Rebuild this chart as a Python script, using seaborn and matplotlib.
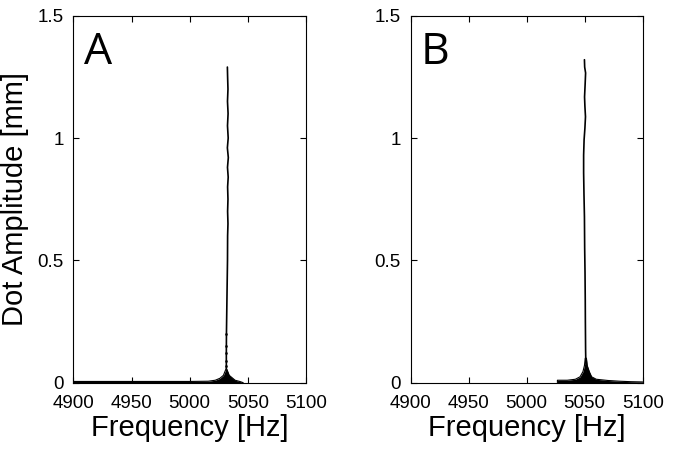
import numpy as np
import pandas as pd
import matplotlib
matplotlib.use('Agg')
import matplotlib.pyplot as plt
import seaborn as sns

# ----------------------------------------------------------------------------
# data (frequency [Hz], dot amplitude [mm])
# ----------------------------------------------------------------------------

# panel A: resonance ridge, top to bottom
a_ridge_freq = [5032.4, 5032.6, 5032.9, 5032.5, 5033.0, 5032.5, 5033.1, 5032.4,
                5033.2, 5032.5, 5033.1, 5032.6, 5032.9, 5032.6, 5032.9, 5032.6,
                5032.5, 5032.2, 5031.9, 5031.6, 5031.5, 5031.5]
a_ridge_amp = [1.29, 1.25, 1.20, 1.15, 1.10, 1.05, 1.00, 0.96,
               0.92, 0.88, 0.84, 0.80, 0.75, 0.70, 0.65, 0.60,
               0.50, 0.40, 0.30, 0.20, 0.12, 0.06]

# panel A: thicker dots along the lower ridge
a_dot_freq = [5031.6, 5031.5, 5031.5, 5031.5, 5031.5]
a_dot_amp = [0.20, 0.15, 0.12, 0.09, 0.07]

# panel A: outline of the dot cloud at the foot of the peak
a_base_freq = [4900, 4950, 5000, 5016, 5022, 5026, 5029.0, 5030.5, 5031.5,
               5032.5, 5034.0, 5036.5, 5039, 5043, 5046]
a_base_amp = [0.005, 0.005, 0.005, 0.006, 0.010, 0.018, 0.030, 0.048, 0.060,
              0.048, 0.030, 0.020, 0.010, 0.005, 0.0]

# panel B: resonance ridge, top to bottom
b_ridge_freq = [5049.8, 5050.0, 5050.8, 5050.4, 5049.9, 5050.2, 5050.7, 5050.2,
                5049.5, 5049.1, 5049.1, 5049.4, 5049.8, 5050.0, 5050.3, 5050.5,
                5050.6, 5050.8, 5051.0]
b_ridge_amp = [1.32, 1.29, 1.266, 1.22, 1.168, 1.13, 1.087, 1.04,
               0.993, 0.93, 0.858, 0.77, 0.678, 0.55, 0.45, 0.338,
               0.25, 0.134, 0.08]

# panel B: outline of the dot cloud at the foot of the peak
b_base_freq = [5026.5, 5026.5, 5035, 5042, 5046, 5048.5, 5049.8, 5050.5,
               5051.5, 5052.2, 5054, 5056, 5060, 5070, 5080, 5090, 5100]
b_base_amp = [0.0, 0.010, 0.010, 0.014, 0.024, 0.045, 0.070, 0.100,
              0.100, 0.070, 0.045, 0.024, 0.014, 0.009, 0.006, 0.004, 0.003]

x_ticks = [4900, 4950, 5000, 5050, 5100]
y_ticks = [0, 0.5, 1, 1.5]
y_tick_labels = ['0', '0.5', '1', '1.5']
panel_labels = ['A', 'B']

# ----------------------------------------------------------------------------
# plot
# ----------------------------------------------------------------------------

sns.set_theme(style='ticks')
plt.rcParams['font.family'] = ['Liberation Sans', 'DejaVu Sans']
plt.rcParams['xtick.direction'] = 'in'
plt.rcParams['ytick.direction'] = 'in'

fig = plt.figure(figsize=(6.76, 4.5), dpi=100)
ax_a = fig.add_axes([0.1085, 0.1496, 0.3442, 0.8155])
ax_b = fig.add_axes([0.6075, 0.1496, 0.3432, 0.8155])

panels = [
    (ax_a, a_ridge_freq, a_ridge_amp, a_base_freq, a_base_amp, a_dot_freq, a_dot_amp),
    (ax_b, b_ridge_freq, b_ridge_amp, b_base_freq, b_base_amp, None, None),
]

for (ax, rf, ra, bf, ba, df_, da), label in zip(panels, panel_labels):
    ridge = pd.DataFrame({'freq': rf, 'amp': ra})
    sns.lineplot(data=ridge, x='freq', y='amp', sort=False, color='black',
                 lw=1.2, ax=ax, estimator=None)
    base = pd.DataFrame({'freq': bf, 'amp': ba})
    sns.lineplot(data=base, x='freq', y='amp', sort=False, color='black',
                 lw=0.8, ax=ax, estimator=None)
    ax.fill_between(base['freq'], 0, base['amp'], color='black', lw=0)
    if df_ is not None:
        sns.scatterplot(x=df_, y=da, color='black', s=3, edgecolor=None, ax=ax)

    ax.set_xlim(4900, 5100)
    ax.set_ylim(0, 1.5)
    ax.set_xticks(x_ticks)
    ax.set_xticklabels([str(t) for t in x_ticks])
    ax.set_yticks(y_ticks)
    ax.set_yticklabels(y_tick_labels)
    ax.tick_params(top=True, right=True, length=4, width=0.8, labelsize=13.5,
                   colors='black')
    ax.tick_params(axis='x', pad=9)
    ax.tick_params(axis='y', pad=7)
    for sp in ax.spines.values():
        sp.set_linewidth(0.8)
        sp.set_color('black')
    ax.set_xlabel('Frequency [Hz]', fontsize=21, color='black', labelpad=1)
    ax.set_ylabel('')
    ax.text(0.045, 0.96, label, transform=ax.transAxes, fontsize=32,
            family=['Open Sans', 'DejaVu Sans'], va='top', ha='left', color='black')

ax_a.set_ylabel('Dot Amplitude [mm]', fontsize=21, color='black', labelpad=6)

fig.savefig('out.png', dpi=100)
